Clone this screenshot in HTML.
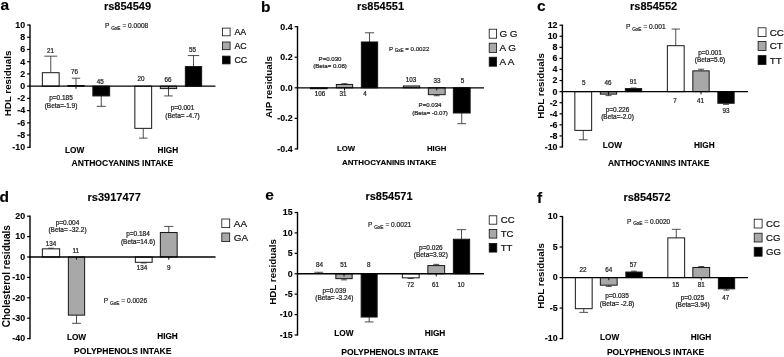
<!DOCTYPE html>
<html><head><meta charset="utf-8"><title>Figure</title>
<style>
html,body{margin:0;padding:0;background:#fff;}
body{width:784px;height:357px;overflow:hidden;}
svg{display:block;font-family:"Liberation Sans", sans-serif;filter:blur(0.35px);}
</style></head>
<body>
<svg width="784" height="357" viewBox="0 0 784 357">
<rect x="0" y="0" width="784" height="357" fill="#fff"/>
<text x="0.6" y="10.3" font-size="15.5" font-weight="bold" text-anchor="start" fill="#000" stroke="#000" stroke-width="0.12">a</text>
<text x="127.5" y="10.2" font-size="11" font-weight="bold" text-anchor="middle" fill="#000" stroke="#000" stroke-width="0.12">rs854549</text>
<line x1="50.75" y1="72.697" x2="50.75" y2="56.186499999999995" stroke="#222" stroke-width="0.8"/>
<line x1="44.25" y1="56.186499999999995" x2="57.25" y2="56.186499999999995" stroke="#222" stroke-width="0.8"/>
<rect x="42.35" y="72.697" width="16.799999999999997" height="13.453000000000003" fill="#fff" stroke="#161616" stroke-width="1.0"/>
<line x1="76.0" y1="85.5385" x2="76.0" y2="78.2005" stroke="#222" stroke-width="0.8"/>
<line x1="71.8" y1="78.2005" x2="80.2" y2="78.2005" stroke="#222" stroke-width="0.8"/>
<rect x="67.85" y="85.5385" width="16.30000000000001" height="0.6115000000000066" fill="#000" stroke="#161616" stroke-width="1.0"/>
<line x1="101.25" y1="95.934" x2="101.25" y2="106.32950000000001" stroke="#222" stroke-width="0.8"/>
<line x1="96.75" y1="106.32950000000001" x2="105.75" y2="106.32950000000001" stroke="#222" stroke-width="0.8"/>
<rect x="92.85" y="86.15" width="16.80000000000001" height="9.783999999999992" fill="#000" stroke="#161616" stroke-width="1.0"/>
<line x1="143.25" y1="128.3435" x2="143.25" y2="138.1275" stroke="#222" stroke-width="0.8"/>
<line x1="138.95" y1="138.1275" x2="147.55" y2="138.1275" stroke="#222" stroke-width="0.8"/>
<rect x="134.85" y="86.15" width="16.80000000000001" height="42.1935" fill="#fff" stroke="#161616" stroke-width="1.0"/>
<line x1="168.5" y1="88.596" x2="168.5" y2="95.934" stroke="#222" stroke-width="0.8"/>
<line x1="164.2" y1="95.934" x2="172.8" y2="95.934" stroke="#222" stroke-width="0.8"/>
<rect x="160.35" y="86.15" width="16.30000000000001" height="2.445999999999998" fill="#a8a8a8" stroke="#161616" stroke-width="1.0"/>
<line x1="193.5" y1="66.582" x2="193.5" y2="55.575" stroke="#222" stroke-width="0.8"/>
<line x1="187.8" y1="55.575" x2="199.2" y2="55.575" stroke="#222" stroke-width="0.8"/>
<rect x="185.35" y="66.582" width="16.30000000000001" height="19.568000000000012" fill="#000" stroke="#161616" stroke-width="1.0"/>
<line x1="76.0" y1="86.15" x2="76.0" y2="88.85000000000001" stroke="#111" stroke-width="1.0"/>
<line x1="168.5" y1="86.15" x2="168.5" y2="88.85000000000001" stroke="#111" stroke-width="1.0"/>
<line x1="29.3" y1="86.15" x2="215.5" y2="86.15" stroke="#000" stroke-width="1.3"/>
<line x1="30" y1="24.4" x2="30" y2="147.9" stroke="#000" stroke-width="1.4"/>
<line x1="27.1" y1="25.0" x2="30" y2="25.0" stroke="#000" stroke-width="1.2"/>
<text x="25.1" y="27.87" font-size="8.85" font-weight="bold" text-anchor="end" fill="#000" stroke="#000" stroke-width="0.12">10</text>
<line x1="27.1" y1="37.230000000000004" x2="30" y2="37.230000000000004" stroke="#000" stroke-width="1.2"/>
<text x="25.1" y="40.1" font-size="8.85" font-weight="bold" text-anchor="end" fill="#000" stroke="#000" stroke-width="0.12">8</text>
<line x1="27.1" y1="49.46" x2="30" y2="49.46" stroke="#000" stroke-width="1.2"/>
<text x="25.1" y="52.33" font-size="8.85" font-weight="bold" text-anchor="end" fill="#000" stroke="#000" stroke-width="0.12">6</text>
<line x1="27.1" y1="61.69" x2="30" y2="61.69" stroke="#000" stroke-width="1.2"/>
<text x="25.1" y="64.56" font-size="8.85" font-weight="bold" text-anchor="end" fill="#000" stroke="#000" stroke-width="0.12">4</text>
<line x1="27.1" y1="73.92" x2="30" y2="73.92" stroke="#000" stroke-width="1.2"/>
<text x="25.1" y="76.79" font-size="8.85" font-weight="bold" text-anchor="end" fill="#000" stroke="#000" stroke-width="0.12">2</text>
<line x1="27.1" y1="86.15" x2="30" y2="86.15" stroke="#000" stroke-width="1.2"/>
<text x="25.1" y="89.02" font-size="8.85" font-weight="bold" text-anchor="end" fill="#000" stroke="#000" stroke-width="0.12">0</text>
<line x1="27.1" y1="98.38" x2="30" y2="98.38" stroke="#000" stroke-width="1.2"/>
<text x="25.1" y="101.25" font-size="8.85" font-weight="bold" text-anchor="end" fill="#000" stroke="#000" stroke-width="0.12">-2</text>
<line x1="27.1" y1="110.61" x2="30" y2="110.61" stroke="#000" stroke-width="1.2"/>
<text x="25.1" y="113.48" font-size="8.85" font-weight="bold" text-anchor="end" fill="#000" stroke="#000" stroke-width="0.12">-4</text>
<line x1="27.1" y1="122.84" x2="30" y2="122.84" stroke="#000" stroke-width="1.2"/>
<text x="25.1" y="125.71" font-size="8.85" font-weight="bold" text-anchor="end" fill="#000" stroke="#000" stroke-width="0.12">-6</text>
<line x1="27.1" y1="135.07" x2="30" y2="135.07" stroke="#000" stroke-width="1.2"/>
<text x="25.1" y="137.94" font-size="8.85" font-weight="bold" text-anchor="end" fill="#000" stroke="#000" stroke-width="0.12">-8</text>
<line x1="27.1" y1="147.3" x2="30" y2="147.3" stroke="#000" stroke-width="1.2"/>
<text x="25.1" y="150.17" font-size="8.85" font-weight="bold" text-anchor="end" fill="#000" stroke="#000" stroke-width="0.12">-10</text>
<text transform="translate(10.6,83.5) rotate(-90)" font-size="9.8" font-weight="bold" text-anchor="middle" fill="#000">HDL residuals</text>
<text x="74.7" y="152.95" font-size="8.25" font-weight="bold" text-anchor="middle" fill="#000" stroke="#000" stroke-width="0.12">LOW</text>
<text x="167.8" y="152.95" font-size="8.25" font-weight="bold" text-anchor="middle" fill="#000" stroke="#000" stroke-width="0.12">HIGH</text>
<text x="122.4" y="165.66" font-size="8.55" font-weight="bold" text-anchor="middle" fill="#000" stroke="#000" stroke-width="0.12">ANTHOCYANINS INTAKE</text>
<text x="50.5" y="53.26" font-size="6.3" text-anchor="middle" fill="#1c1c1c" stroke="#1c1c1c" stroke-width="0.22">21</text>
<text x="74.5" y="74.26" font-size="6.3" text-anchor="middle" fill="#1c1c1c" stroke="#1c1c1c" stroke-width="0.22">76</text>
<text x="100.3" y="83.86" font-size="6.3" text-anchor="middle" fill="#1c1c1c" stroke="#1c1c1c" stroke-width="0.22">45</text>
<text x="141" y="81.26" font-size="6.3" text-anchor="middle" fill="#1c1c1c" stroke="#1c1c1c" stroke-width="0.22">20</text>
<text x="168" y="81.76" font-size="6.3" text-anchor="middle" fill="#1c1c1c" stroke="#1c1c1c" stroke-width="0.22">66</text>
<text x="192.5" y="51.76" font-size="6.3" text-anchor="middle" fill="#1c1c1c" stroke="#1c1c1c" stroke-width="0.22">55</text>
<text x="61" y="100.33" font-size="6.5" text-anchor="middle" fill="#1c1c1c" stroke="#1c1c1c" stroke-width="0.22">p=0.185</text>
<text x="61" y="108.33" font-size="6.5" text-anchor="middle" fill="#1c1c1c" stroke="#1c1c1c" stroke-width="0.22">(Beta=-1.9)</text>
<text x="182.5" y="109.83" font-size="6.5" text-anchor="middle" fill="#1c1c1c" stroke="#1c1c1c" stroke-width="0.22">p=0.001</text>
<text x="182.5" y="118.33" font-size="6.5" text-anchor="middle" fill="#1c1c1c" stroke="#1c1c1c" stroke-width="0.22">(Beta= -4.7)</text>
<text x="105" y="28.36" font-size="6.6" text-anchor="start" fill="#1c1c1c" stroke="#1c1c1c" stroke-width="0.2">P <tspan font-size="4.88" dy="1.5">GxE</tspan><tspan dy="-1.5"> = 0.0008</tspan></text>
<rect x="222.4" y="28.1" width="7.7" height="7.7" fill="#fff" stroke="#111" stroke-width="0.8"/>
<text x="234.5" y="35.1" font-size="8.8" text-anchor="start" fill="#111" stroke="#111" stroke-width="0.22">AA</text>
<rect x="222.4" y="42.0" width="7.7" height="7.7" fill="#a8a8a8" stroke="#111" stroke-width="0.8"/>
<text x="234.5" y="49.0" font-size="8.8" text-anchor="start" fill="#111" stroke="#111" stroke-width="0.22">AC</text>
<rect x="222.4" y="56.1" width="7.7" height="7.8" fill="#000" stroke="#111" stroke-width="0.8"/>
<text x="234.5" y="63.15" font-size="8.8" text-anchor="start" fill="#111" stroke="#111" stroke-width="0.22">CC</text>
<text x="261" y="12.3" font-size="15.5" font-weight="bold" text-anchor="start" fill="#000" stroke="#000" stroke-width="0.12">b</text>
<text x="380.5" y="10.2" font-size="11" font-weight="bold" text-anchor="middle" fill="#000" stroke="#000" stroke-width="0.12">rs854551</text>
<rect x="310.35" y="87.8" width="16.799999999999955" height="0.9165000000000134" fill="#fff" stroke="#161616" stroke-width="1.0"/>
<line x1="344.5" y1="84.4395" x2="344.5" y2="83.67575" stroke="#222" stroke-width="0.8"/>
<line x1="341.5" y1="83.67575" x2="347.5" y2="83.67575" stroke="#222" stroke-width="0.8"/>
<rect x="336.35" y="84.4395" width="16.299999999999955" height="3.360500000000002" fill="#a8a8a8" stroke="#161616" stroke-width="1.0"/>
<line x1="369.5" y1="41.97500000000001" x2="369.5" y2="32.81" stroke="#222" stroke-width="0.8"/>
<line x1="364.9" y1="32.81" x2="374.1" y2="32.81" stroke="#222" stroke-width="0.8"/>
<rect x="361.35" y="41.97500000000001" width="16.299999999999955" height="45.82499999999999" fill="#000" stroke="#161616" stroke-width="1.0"/>
<rect x="403.35" y="85.967" width="16.299999999999955" height="1.8329999999999984" fill="#a8a8a8" stroke="#161616" stroke-width="1.0"/>
<line x1="436.75" y1="94.67375" x2="436.75" y2="95.74300000000001" stroke="#222" stroke-width="0.8"/>
<line x1="433.75" y1="95.74300000000001" x2="439.75" y2="95.74300000000001" stroke="#222" stroke-width="0.8"/>
<rect x="428.35" y="87.8" width="16.799999999999955" height="6.873750000000001" fill="#a8a8a8" stroke="#161616" stroke-width="1.0"/>
<line x1="461.75" y1="113.00375000000001" x2="461.75" y2="123.69625" stroke="#222" stroke-width="0.8"/>
<line x1="457.35" y1="123.69625" x2="466.15" y2="123.69625" stroke="#222" stroke-width="0.8"/>
<rect x="453.35" y="87.8" width="16.799999999999955" height="25.203750000000014" fill="#000" stroke="#161616" stroke-width="1.0"/>
<line x1="344.5" y1="87.8" x2="344.5" y2="90.5" stroke="#111" stroke-width="1.0"/>
<line x1="436.75" y1="87.8" x2="436.75" y2="90.5" stroke="#111" stroke-width="1.0"/>
<line x1="296.8" y1="87.8" x2="484" y2="87.8" stroke="#000" stroke-width="1.3"/>
<line x1="297.5" y1="26.099999999999998" x2="297.5" y2="149.5" stroke="#000" stroke-width="1.4"/>
<line x1="294.6" y1="26.7" x2="297.5" y2="26.7" stroke="#000" stroke-width="1.2"/>
<text x="292.6" y="29.57" font-size="8.85" font-weight="bold" text-anchor="end" fill="#000" stroke="#000" stroke-width="0.12">0.4</text>
<line x1="294.6" y1="57.25" x2="297.5" y2="57.25" stroke="#000" stroke-width="1.2"/>
<text x="292.6" y="60.12" font-size="8.85" font-weight="bold" text-anchor="end" fill="#000" stroke="#000" stroke-width="0.12">0.2</text>
<line x1="294.6" y1="87.8" x2="297.5" y2="87.8" stroke="#000" stroke-width="1.2"/>
<text x="292.6" y="90.67" font-size="8.85" font-weight="bold" text-anchor="end" fill="#000" stroke="#000" stroke-width="0.12">0.0</text>
<line x1="294.6" y1="118.35000000000002" x2="297.5" y2="118.35000000000002" stroke="#000" stroke-width="1.2"/>
<text x="292.6" y="121.22" font-size="8.85" font-weight="bold" text-anchor="end" fill="#000" stroke="#000" stroke-width="0.12">-0.2</text>
<line x1="294.6" y1="148.9" x2="297.5" y2="148.9" stroke="#000" stroke-width="1.2"/>
<text x="292.6" y="151.77" font-size="8.85" font-weight="bold" text-anchor="end" fill="#000" stroke="#000" stroke-width="0.12">-0.4</text>
<text transform="translate(272.4,87) rotate(-90)" font-size="9.8" font-weight="bold" text-anchor="middle" fill="#000">AIP residuals</text>
<text x="346" y="150.77" font-size="7.75" font-weight="bold" text-anchor="middle" fill="#000" stroke="#000" stroke-width="0.12">LOW</text>
<text x="436.6" y="150.77" font-size="7.75" font-weight="bold" text-anchor="middle" fill="#000" stroke="#000" stroke-width="0.12">HIGH</text>
<text x="389.1" y="165.35" font-size="7.95" font-weight="bold" text-anchor="middle" fill="#000" stroke="#000" stroke-width="0.12">ANTHOCYANINS INTAKE</text>
<text x="320" y="96.06" font-size="6.3" text-anchor="middle" fill="#1c1c1c" stroke="#1c1c1c" stroke-width="0.22">106</text>
<text x="343" y="96.06" font-size="6.3" text-anchor="middle" fill="#1c1c1c" stroke="#1c1c1c" stroke-width="0.22">31</text>
<text x="365" y="96.26" font-size="6.3" text-anchor="middle" fill="#1c1c1c" stroke="#1c1c1c" stroke-width="0.22">4</text>
<text x="411" y="81.76" font-size="6.3" text-anchor="middle" fill="#1c1c1c" stroke="#1c1c1c" stroke-width="0.22">103</text>
<text x="437" y="83.26" font-size="6.3" text-anchor="middle" fill="#1c1c1c" stroke="#1c1c1c" stroke-width="0.22">33</text>
<text x="462.5" y="83.26" font-size="6.3" text-anchor="middle" fill="#1c1c1c" stroke="#1c1c1c" stroke-width="0.22">5</text>
<text x="330" y="61.18" font-size="6.1" text-anchor="middle" fill="#1c1c1c" stroke="#1c1c1c" stroke-width="0.22">P=0.030</text>
<text x="330" y="68.18" font-size="6.1" text-anchor="middle" fill="#1c1c1c" stroke="#1c1c1c" stroke-width="0.22">(Beta= 0.08)</text>
<text x="430" y="107.18" font-size="6.1" text-anchor="middle" fill="#1c1c1c" stroke="#1c1c1c" stroke-width="0.22">P=0.034</text>
<text x="430" y="114.68" font-size="6.1" text-anchor="middle" fill="#1c1c1c" stroke="#1c1c1c" stroke-width="0.22">(Beta= -0.07)</text>
<text x="389" y="50.7" font-size="6.15" text-anchor="start" fill="#1c1c1c" stroke="#1c1c1c" stroke-width="0.2">P <tspan font-size="4.55" dy="1.5">GxE</tspan><tspan dy="-1.5"> = 0.0022</tspan></text>
<rect x="489.2" y="29.2" width="7.4" height="9.0" fill="#fff" stroke="#111" stroke-width="0.8"/>
<text x="499.4" y="37.24" font-size="9.9" text-anchor="start" fill="#111" stroke="#111" stroke-width="0.22">G G</text>
<rect x="489.2" y="43.2" width="7.4" height="9.2" fill="#a8a8a8" stroke="#111" stroke-width="0.8"/>
<text x="499.4" y="51.34" font-size="9.9" text-anchor="start" fill="#111" stroke="#111" stroke-width="0.22">A G</text>
<rect x="489.2" y="57.2" width="7.4" height="9.0" fill="#000" stroke="#111" stroke-width="0.8"/>
<text x="499.4" y="65.24" font-size="9.9" text-anchor="start" fill="#111" stroke="#111" stroke-width="0.22">A A</text>
<text x="537" y="11" font-size="15.5" font-weight="bold" text-anchor="start" fill="#000" stroke="#000" stroke-width="0.12">c</text>
<text x="653.6" y="10.2" font-size="11" font-weight="bold" text-anchor="middle" fill="#000" stroke="#000" stroke-width="0.12">rs854552</text>
<line x1="583.25" y1="130.39090909090908" x2="583.25" y2="139.80272727272725" stroke="#222" stroke-width="0.8"/>
<line x1="578.85" y1="139.80272727272725" x2="587.65" y2="139.80272727272725" stroke="#222" stroke-width="0.8"/>
<rect x="574.85" y="91.63636363636364" width="16.799999999999955" height="38.754545454545436" fill="#fff" stroke="#161616" stroke-width="1.0"/>
<line x1="608.5" y1="94.12772727272727" x2="608.5" y2="95.62254545454546" stroke="#222" stroke-width="0.8"/>
<line x1="605.5" y1="95.62254545454546" x2="611.5" y2="95.62254545454546" stroke="#222" stroke-width="0.8"/>
<rect x="600.35" y="91.63636363636364" width="16.299999999999955" height="2.49136363636363" fill="#a8a8a8" stroke="#161616" stroke-width="1.0"/>
<line x1="633.5" y1="88.59136363636362" x2="633.5" y2="88.03772727272727" stroke="#222" stroke-width="0.8"/>
<line x1="630.5" y1="88.03772727272727" x2="636.5" y2="88.03772727272727" stroke="#222" stroke-width="0.8"/>
<rect x="625.35" y="88.59136363636362" width="16.299999999999955" height="3.045000000000016" fill="#000" stroke="#161616" stroke-width="1.0"/>
<line x1="675.75" y1="45.68454545454545" x2="675.75" y2="29.07545454545454" stroke="#222" stroke-width="0.8"/>
<line x1="671.55" y1="29.07545454545454" x2="679.95" y2="29.07545454545454" stroke="#222" stroke-width="0.8"/>
<rect x="667.35" y="45.68454545454545" width="16.799999999999955" height="45.95181818181819" fill="#fff" stroke="#161616" stroke-width="1.0"/>
<line x1="701.0" y1="70.875" x2="701.0" y2="69.21409090909091" stroke="#222" stroke-width="0.8"/>
<line x1="698.0" y1="69.21409090909091" x2="704.0" y2="69.21409090909091" stroke="#222" stroke-width="0.8"/>
<rect x="692.85" y="70.875" width="16.299999999999955" height="20.76136363636364" fill="#a8a8a8" stroke="#161616" stroke-width="1.0"/>
<line x1="726.0" y1="103.26272727272728" x2="726.0" y2="104.37" stroke="#222" stroke-width="0.8"/>
<line x1="723.0" y1="104.37" x2="729.0" y2="104.37" stroke="#222" stroke-width="0.8"/>
<rect x="717.85" y="91.63636363636364" width="16.299999999999955" height="11.626363636363635" fill="#000" stroke="#161616" stroke-width="1.0"/>
<line x1="608.5" y1="91.63636363636364" x2="608.5" y2="94.33636363636364" stroke="#111" stroke-width="1.0"/>
<line x1="701.0" y1="91.63636363636364" x2="701.0" y2="94.33636363636364" stroke="#111" stroke-width="1.0"/>
<line x1="561.6999999999999" y1="91.63636363636364" x2="748" y2="91.63636363636364" stroke="#000" stroke-width="1.3"/>
<line x1="562.4" y1="24.599999999999998" x2="562.4" y2="147.6" stroke="#000" stroke-width="1.4"/>
<line x1="559.5" y1="25.2" x2="562.4" y2="25.2" stroke="#000" stroke-width="1.2"/>
<text x="557.5" y="28.07" font-size="8.85" font-weight="bold" text-anchor="end" fill="#000" stroke="#000" stroke-width="0.12">12</text>
<line x1="559.5" y1="36.27272727272727" x2="562.4" y2="36.27272727272727" stroke="#000" stroke-width="1.2"/>
<text x="557.5" y="39.14" font-size="8.85" font-weight="bold" text-anchor="end" fill="#000" stroke="#000" stroke-width="0.12">10</text>
<line x1="559.5" y1="47.345454545454544" x2="562.4" y2="47.345454545454544" stroke="#000" stroke-width="1.2"/>
<text x="557.5" y="50.21" font-size="8.85" font-weight="bold" text-anchor="end" fill="#000" stroke="#000" stroke-width="0.12">8</text>
<line x1="559.5" y1="58.41818181818182" x2="562.4" y2="58.41818181818182" stroke="#000" stroke-width="1.2"/>
<text x="557.5" y="61.29" font-size="8.85" font-weight="bold" text-anchor="end" fill="#000" stroke="#000" stroke-width="0.12">6</text>
<line x1="559.5" y1="69.49090909090908" x2="562.4" y2="69.49090909090908" stroke="#000" stroke-width="1.2"/>
<text x="557.5" y="72.36" font-size="8.85" font-weight="bold" text-anchor="end" fill="#000" stroke="#000" stroke-width="0.12">4</text>
<line x1="559.5" y1="80.56363636363636" x2="562.4" y2="80.56363636363636" stroke="#000" stroke-width="1.2"/>
<text x="557.5" y="83.43" font-size="8.85" font-weight="bold" text-anchor="end" fill="#000" stroke="#000" stroke-width="0.12">2</text>
<line x1="559.5" y1="91.63636363636364" x2="562.4" y2="91.63636363636364" stroke="#000" stroke-width="1.2"/>
<text x="557.5" y="94.5" font-size="8.85" font-weight="bold" text-anchor="end" fill="#000" stroke="#000" stroke-width="0.12">0</text>
<line x1="559.5" y1="102.7090909090909" x2="562.4" y2="102.7090909090909" stroke="#000" stroke-width="1.2"/>
<text x="557.5" y="105.58" font-size="8.85" font-weight="bold" text-anchor="end" fill="#000" stroke="#000" stroke-width="0.12">-2</text>
<line x1="559.5" y1="113.78181818181818" x2="562.4" y2="113.78181818181818" stroke="#000" stroke-width="1.2"/>
<text x="557.5" y="116.65" font-size="8.85" font-weight="bold" text-anchor="end" fill="#000" stroke="#000" stroke-width="0.12">-4</text>
<line x1="559.5" y1="124.85454545454546" x2="562.4" y2="124.85454545454546" stroke="#000" stroke-width="1.2"/>
<text x="557.5" y="127.72" font-size="8.85" font-weight="bold" text-anchor="end" fill="#000" stroke="#000" stroke-width="0.12">-6</text>
<line x1="559.5" y1="135.9272727272727" x2="562.4" y2="135.9272727272727" stroke="#000" stroke-width="1.2"/>
<text x="557.5" y="138.8" font-size="8.85" font-weight="bold" text-anchor="end" fill="#000" stroke="#000" stroke-width="0.12">-8</text>
<line x1="559.5" y1="147.0" x2="562.4" y2="147.0" stroke="#000" stroke-width="1.2"/>
<text x="557.5" y="149.87" font-size="8.85" font-weight="bold" text-anchor="end" fill="#000" stroke="#000" stroke-width="0.12">-10</text>
<text transform="translate(543.8,86) rotate(-90)" font-size="9.8" font-weight="bold" text-anchor="middle" fill="#000">HDL residuals</text>
<text x="612.3" y="148.25" font-size="8.25" font-weight="bold" text-anchor="middle" fill="#000" stroke="#000" stroke-width="0.12">LOW</text>
<text x="704.3" y="148.25" font-size="8.25" font-weight="bold" text-anchor="middle" fill="#000" stroke="#000" stroke-width="0.12">HIGH</text>
<text x="658.7" y="166.06" font-size="8.55" font-weight="bold" text-anchor="middle" fill="#000" stroke="#000" stroke-width="0.12">ANTHOCYANINS INTAKE</text>
<text x="583.8" y="84.76" font-size="6.3" text-anchor="middle" fill="#1c1c1c" stroke="#1c1c1c" stroke-width="0.22">5</text>
<text x="608" y="84.76" font-size="6.3" text-anchor="middle" fill="#1c1c1c" stroke="#1c1c1c" stroke-width="0.22">46</text>
<text x="633.3" y="84.26" font-size="6.3" text-anchor="middle" fill="#1c1c1c" stroke="#1c1c1c" stroke-width="0.22">91</text>
<text x="675" y="103.06" font-size="6.3" text-anchor="middle" fill="#1c1c1c" stroke="#1c1c1c" stroke-width="0.22">7</text>
<text x="700.5" y="103.26" font-size="6.3" text-anchor="middle" fill="#1c1c1c" stroke="#1c1c1c" stroke-width="0.22">41</text>
<text x="726" y="113.06" font-size="6.3" text-anchor="middle" fill="#1c1c1c" stroke="#1c1c1c" stroke-width="0.22">93</text>
<text x="617.5" y="111.63" font-size="6.5" text-anchor="middle" fill="#1c1c1c" stroke="#1c1c1c" stroke-width="0.22">p=0.226</text>
<text x="617.5" y="119.13" font-size="6.5" text-anchor="middle" fill="#1c1c1c" stroke="#1c1c1c" stroke-width="0.22">(Beta=-2.0)</text>
<text x="710" y="54.83" font-size="6.5" text-anchor="middle" fill="#1c1c1c" stroke="#1c1c1c" stroke-width="0.22">p=0.001</text>
<text x="710" y="62.33" font-size="6.5" text-anchor="middle" fill="#1c1c1c" stroke="#1c1c1c" stroke-width="0.22">(Beta=5.6)</text>
<text x="626" y="29.16" font-size="6.6" text-anchor="start" fill="#1c1c1c" stroke="#1c1c1c" stroke-width="0.2">P <tspan font-size="4.88" dy="1.5">GxE</tspan><tspan dy="-1.5"> = 0.001</tspan></text>
<rect x="758.1" y="27.8" width="7.9" height="8.8" fill="#fff" stroke="#111" stroke-width="0.8"/>
<text x="769.8" y="35.71" font-size="9.8" text-anchor="start" fill="#111" stroke="#111" stroke-width="0.22">CC</text>
<rect x="758.1" y="41.5" width="7.9" height="8.9" fill="#a8a8a8" stroke="#111" stroke-width="0.8"/>
<text x="769.8" y="49.46" font-size="9.8" text-anchor="start" fill="#111" stroke="#111" stroke-width="0.22">CT</text>
<rect x="758.1" y="55.6" width="7.9" height="8.9" fill="#000" stroke="#111" stroke-width="0.8"/>
<text x="769.8" y="63.56" font-size="9.8" text-anchor="start" fill="#111" stroke="#111" stroke-width="0.22">TT</text>
<text x="-0.5" y="202.3" font-size="15.5" font-weight="bold" text-anchor="start" fill="#000" stroke="#000" stroke-width="0.12">d</text>
<text x="114.2" y="201.4" font-size="11" font-weight="bold" text-anchor="middle" fill="#000" stroke="#000" stroke-width="0.12">rs3917477</text>
<line x1="51.0" y1="248.84" x2="51.0" y2="248.228" stroke="#222" stroke-width="0.8"/>
<line x1="48.0" y1="248.228" x2="54.0" y2="248.228" stroke="#222" stroke-width="0.8"/>
<rect x="42.35" y="248.84" width="17.299999999999997" height="8.159999999999997" fill="#fff" stroke="#161616" stroke-width="1.0"/>
<line x1="76.5" y1="315.14" x2="76.5" y2="323.3" stroke="#222" stroke-width="0.8"/>
<line x1="72.1" y1="323.3" x2="80.9" y2="323.3" stroke="#222" stroke-width="0.8"/>
<rect x="68.35" y="257.0" width="16.30000000000001" height="58.139999999999986" fill="#a8a8a8" stroke="#161616" stroke-width="1.0"/>
<line x1="143.75" y1="262.304" x2="143.75" y2="262.916" stroke="#222" stroke-width="0.8"/>
<line x1="140.75" y1="262.916" x2="146.75" y2="262.916" stroke="#222" stroke-width="0.8"/>
<rect x="135.35" y="257.0" width="16.80000000000001" height="5.303999999999974" fill="#fff" stroke="#161616" stroke-width="1.0"/>
<line x1="168.75" y1="232.51999999999998" x2="168.75" y2="226.39999999999998" stroke="#222" stroke-width="0.8"/>
<line x1="164.15" y1="226.39999999999998" x2="173.35" y2="226.39999999999998" stroke="#222" stroke-width="0.8"/>
<rect x="160.35" y="232.51999999999998" width="16.80000000000001" height="24.480000000000018" fill="#a8a8a8" stroke="#161616" stroke-width="1.0"/>
<line x1="76.5" y1="257.0" x2="76.5" y2="259.7" stroke="#111" stroke-width="1.0"/>
<line x1="168.75" y1="257.0" x2="168.75" y2="259.7" stroke="#111" stroke-width="1.0"/>
<line x1="29.3" y1="257.0" x2="215.5" y2="257.0" stroke="#000" stroke-width="1.3"/>
<line x1="30" y1="215.6" x2="30" y2="339.20000000000005" stroke="#000" stroke-width="1.4"/>
<line x1="27.1" y1="216.2" x2="30" y2="216.2" stroke="#000" stroke-width="1.2"/>
<text x="25.1" y="219.07" font-size="8.85" font-weight="bold" text-anchor="end" fill="#000" stroke="#000" stroke-width="0.12">20</text>
<line x1="27.1" y1="236.6" x2="30" y2="236.6" stroke="#000" stroke-width="1.2"/>
<text x="25.1" y="239.47" font-size="8.85" font-weight="bold" text-anchor="end" fill="#000" stroke="#000" stroke-width="0.12">10</text>
<line x1="27.1" y1="257.0" x2="30" y2="257.0" stroke="#000" stroke-width="1.2"/>
<text x="25.1" y="259.87" font-size="8.85" font-weight="bold" text-anchor="end" fill="#000" stroke="#000" stroke-width="0.12">0</text>
<line x1="27.1" y1="277.4" x2="30" y2="277.4" stroke="#000" stroke-width="1.2"/>
<text x="25.1" y="280.27" font-size="8.85" font-weight="bold" text-anchor="end" fill="#000" stroke="#000" stroke-width="0.12">-10</text>
<line x1="27.1" y1="297.8" x2="30" y2="297.8" stroke="#000" stroke-width="1.2"/>
<text x="25.1" y="300.67" font-size="8.85" font-weight="bold" text-anchor="end" fill="#000" stroke="#000" stroke-width="0.12">-20</text>
<line x1="27.1" y1="318.20000000000005" x2="30" y2="318.20000000000005" stroke="#000" stroke-width="1.2"/>
<text x="25.1" y="321.07" font-size="8.85" font-weight="bold" text-anchor="end" fill="#000" stroke="#000" stroke-width="0.12">-30</text>
<line x1="27.1" y1="338.6" x2="30" y2="338.6" stroke="#000" stroke-width="1.2"/>
<text x="25.1" y="341.47" font-size="8.85" font-weight="bold" text-anchor="end" fill="#000" stroke="#000" stroke-width="0.12">-40</text>
<text transform="translate(9.8,276.2) rotate(-90)" font-size="10.05" font-weight="bold" text-anchor="middle" fill="#000">Cholesterol residuals</text>
<text x="76.5" y="339.65" font-size="8.25" font-weight="bold" text-anchor="middle" fill="#000" stroke="#000" stroke-width="0.12">LOW</text>
<text x="167.5" y="339.45" font-size="8.25" font-weight="bold" text-anchor="middle" fill="#000" stroke="#000" stroke-width="0.12">HIGH</text>
<text x="122.8" y="354.36" font-size="8.55" font-weight="bold" text-anchor="middle" fill="#000" stroke="#000" stroke-width="0.12">POLYPHENOLS INTAKE</text>
<text x="51" y="246.06" font-size="6.3" text-anchor="middle" fill="#1c1c1c" stroke="#1c1c1c" stroke-width="0.22">134</text>
<text x="75.8" y="253.26" font-size="6.3" text-anchor="middle" fill="#1c1c1c" stroke="#1c1c1c" stroke-width="0.22">11</text>
<text x="142" y="270.26" font-size="6.3" text-anchor="middle" fill="#1c1c1c" stroke="#1c1c1c" stroke-width="0.22">134</text>
<text x="168.8" y="270.26" font-size="6.3" text-anchor="middle" fill="#1c1c1c" stroke="#1c1c1c" stroke-width="0.22">9</text>
<text x="67.5" y="224.83" font-size="6.5" text-anchor="middle" fill="#1c1c1c" stroke="#1c1c1c" stroke-width="0.22">p=0.004</text>
<text x="67.5" y="232.33" font-size="6.5" text-anchor="middle" fill="#1c1c1c" stroke="#1c1c1c" stroke-width="0.22">(Beta= -32.2)</text>
<text x="138" y="236.13" font-size="6.5" text-anchor="middle" fill="#1c1c1c" stroke="#1c1c1c" stroke-width="0.22">p=0.184</text>
<text x="138" y="243.63" font-size="6.5" text-anchor="middle" fill="#1c1c1c" stroke="#1c1c1c" stroke-width="0.22">(Beta=14.6)</text>
<text x="103.8" y="303.16" font-size="6.6" text-anchor="start" fill="#1c1c1c" stroke="#1c1c1c" stroke-width="0.2">P <tspan font-size="4.88" dy="1.5">GxE</tspan><tspan dy="-1.5"> = 0.0026</tspan></text>
<rect x="221.8" y="219.0" width="7.9" height="8.6" fill="#fff" stroke="#111" stroke-width="0.8"/>
<text x="233.8" y="226.84" font-size="9.9" text-anchor="start" fill="#111" stroke="#111" stroke-width="0.22">AA</text>
<rect x="221.8" y="233.0" width="7.9" height="8.6" fill="#a8a8a8" stroke="#111" stroke-width="0.8"/>
<text x="233.8" y="240.84" font-size="9.9" text-anchor="start" fill="#111" stroke="#111" stroke-width="0.22">GA</text>
<text x="265.2" y="200.2" font-size="15.5" font-weight="bold" text-anchor="start" fill="#000" stroke="#000" stroke-width="0.12">e</text>
<text x="389" y="199.6" font-size="11" font-weight="bold" text-anchor="middle" fill="#000" stroke="#000" stroke-width="0.12">rs854571</text>
<line x1="318.75" y1="273.75" x2="318.75" y2="272.28" stroke="#222" stroke-width="0.8"/>
<line x1="314.35" y1="272.28" x2="323.15" y2="272.28" stroke="#222" stroke-width="0.8"/>
<line x1="344.0" y1="278.65" x2="344.0" y2="279.875" stroke="#222" stroke-width="0.8"/>
<line x1="341.0" y1="279.875" x2="347.0" y2="279.875" stroke="#222" stroke-width="0.8"/>
<rect x="335.85" y="273.75" width="16.299999999999955" height="4.899999999999977" fill="#a8a8a8" stroke="#161616" stroke-width="1.0"/>
<line x1="369.15" y1="317.0333333333333" x2="369.15" y2="321.93333333333334" stroke="#222" stroke-width="0.8"/>
<line x1="364.75" y1="321.93333333333334" x2="373.54999999999995" y2="321.93333333333334" stroke="#222" stroke-width="0.8"/>
<rect x="361.15000000000003" y="273.75" width="15.999999999999943" height="43.2833333333333" fill="#000" stroke="#161616" stroke-width="1.0"/>
<line x1="410.75" y1="277.8333333333333" x2="410.75" y2="278.4458333333333" stroke="#222" stroke-width="0.8"/>
<line x1="407.75" y1="278.4458333333333" x2="413.75" y2="278.4458333333333" stroke="#222" stroke-width="0.8"/>
<rect x="402.35" y="273.75" width="16.799999999999955" height="4.083333333333314" fill="#fff" stroke="#161616" stroke-width="1.0"/>
<line x1="436.25" y1="265.5833333333333" x2="436.25" y2="264.35833333333335" stroke="#222" stroke-width="0.8"/>
<line x1="433.25" y1="264.35833333333335" x2="439.25" y2="264.35833333333335" stroke="#222" stroke-width="0.8"/>
<rect x="427.85" y="265.5833333333333" width="16.799999999999955" height="8.166666666666686" fill="#a8a8a8" stroke="#161616" stroke-width="1.0"/>
<line x1="461.5" y1="239.24583333333334" x2="461.5" y2="229.65" stroke="#222" stroke-width="0.8"/>
<line x1="456.8" y1="229.65" x2="466.2" y2="229.65" stroke="#222" stroke-width="0.8"/>
<rect x="453.35" y="239.24583333333334" width="16.299999999999955" height="34.50416666666666" fill="#000" stroke="#161616" stroke-width="1.0"/>
<line x1="344.0" y1="273.75" x2="344.0" y2="276.45" stroke="#111" stroke-width="1.0"/>
<line x1="436.25" y1="273.75" x2="436.25" y2="276.45" stroke="#111" stroke-width="1.0"/>
<line x1="296.8" y1="273.75" x2="484" y2="273.75" stroke="#000" stroke-width="1.3"/>
<line x1="297.5" y1="211.9" x2="297.5" y2="335.6" stroke="#000" stroke-width="1.4"/>
<line x1="294.6" y1="212.5" x2="297.5" y2="212.5" stroke="#000" stroke-width="1.2"/>
<text x="292.6" y="215.37" font-size="8.85" font-weight="bold" text-anchor="end" fill="#000" stroke="#000" stroke-width="0.12">15</text>
<line x1="294.6" y1="232.91666666666666" x2="297.5" y2="232.91666666666666" stroke="#000" stroke-width="1.2"/>
<text x="292.6" y="235.78" font-size="8.85" font-weight="bold" text-anchor="end" fill="#000" stroke="#000" stroke-width="0.12">10</text>
<line x1="294.6" y1="253.33333333333331" x2="297.5" y2="253.33333333333331" stroke="#000" stroke-width="1.2"/>
<text x="292.6" y="256.2" font-size="8.85" font-weight="bold" text-anchor="end" fill="#000" stroke="#000" stroke-width="0.12">5</text>
<line x1="294.6" y1="273.75" x2="297.5" y2="273.75" stroke="#000" stroke-width="1.2"/>
<text x="292.6" y="276.62" font-size="8.85" font-weight="bold" text-anchor="end" fill="#000" stroke="#000" stroke-width="0.12">0</text>
<line x1="294.6" y1="294.16666666666663" x2="297.5" y2="294.16666666666663" stroke="#000" stroke-width="1.2"/>
<text x="292.6" y="297.03" font-size="8.85" font-weight="bold" text-anchor="end" fill="#000" stroke="#000" stroke-width="0.12">-5</text>
<line x1="294.6" y1="314.5833333333333" x2="297.5" y2="314.5833333333333" stroke="#000" stroke-width="1.2"/>
<text x="292.6" y="317.45" font-size="8.85" font-weight="bold" text-anchor="end" fill="#000" stroke="#000" stroke-width="0.12">-10</text>
<line x1="294.6" y1="335.0" x2="297.5" y2="335.0" stroke="#000" stroke-width="1.2"/>
<text x="292.6" y="337.87" font-size="8.85" font-weight="bold" text-anchor="end" fill="#000" stroke="#000" stroke-width="0.12">-15</text>
<text transform="translate(275.9,272) rotate(-90)" font-size="9.8" font-weight="bold" text-anchor="middle" fill="#000">HDL residuals</text>
<text x="343.8" y="336.25" font-size="8.25" font-weight="bold" text-anchor="middle" fill="#000" stroke="#000" stroke-width="0.12">LOW</text>
<text x="435" y="335.75" font-size="8.25" font-weight="bold" text-anchor="middle" fill="#000" stroke="#000" stroke-width="0.12">HIGH</text>
<text x="389.9" y="355.06" font-size="8.55" font-weight="bold" text-anchor="middle" fill="#000" stroke="#000" stroke-width="0.12">POLYPHENOLS INTAKE</text>
<text x="319.5" y="267.36" font-size="6.3" text-anchor="middle" fill="#1c1c1c" stroke="#1c1c1c" stroke-width="0.22">84</text>
<text x="343.8" y="267.36" font-size="6.3" text-anchor="middle" fill="#1c1c1c" stroke="#1c1c1c" stroke-width="0.22">51</text>
<text x="368.8" y="267.36" font-size="6.3" text-anchor="middle" fill="#1c1c1c" stroke="#1c1c1c" stroke-width="0.22">8</text>
<text x="410.5" y="287.26" font-size="6.3" text-anchor="middle" fill="#1c1c1c" stroke="#1c1c1c" stroke-width="0.22">72</text>
<text x="435.5" y="287.26" font-size="6.3" text-anchor="middle" fill="#1c1c1c" stroke="#1c1c1c" stroke-width="0.22">61</text>
<text x="461" y="287.26" font-size="6.3" text-anchor="middle" fill="#1c1c1c" stroke="#1c1c1c" stroke-width="0.22">10</text>
<text x="334.3" y="292.83" font-size="6.5" text-anchor="middle" fill="#1c1c1c" stroke="#1c1c1c" stroke-width="0.22">p=0.039</text>
<text x="334.3" y="300.33" font-size="6.5" text-anchor="middle" fill="#1c1c1c" stroke="#1c1c1c" stroke-width="0.22">(Beta= -3.24)</text>
<text x="430.8" y="249.83" font-size="6.5" text-anchor="middle" fill="#1c1c1c" stroke="#1c1c1c" stroke-width="0.22">p=0.026</text>
<text x="430.8" y="257.33" font-size="6.5" text-anchor="middle" fill="#1c1c1c" stroke="#1c1c1c" stroke-width="0.22">(Beta=3.92)</text>
<text x="368" y="227.36" font-size="6.6" text-anchor="start" fill="#1c1c1c" stroke="#1c1c1c" stroke-width="0.2">P <tspan font-size="4.88" dy="1.5">GxE</tspan><tspan dy="-1.5"> = 0.0021</tspan></text>
<rect x="489.2" y="215.8" width="7.6" height="8.4" fill="#fff" stroke="#111" stroke-width="0.8"/>
<text x="500.8" y="223.4" font-size="9.5" text-anchor="start" fill="#111" stroke="#111" stroke-width="0.22">CC</text>
<rect x="489.2" y="229.5" width="7.6" height="8.6" fill="#a8a8a8" stroke="#111" stroke-width="0.8"/>
<text x="500.8" y="237.2" font-size="9.5" text-anchor="start" fill="#111" stroke="#111" stroke-width="0.22">TC</text>
<rect x="489.2" y="243.4" width="7.6" height="8.7" fill="#000" stroke="#111" stroke-width="0.8"/>
<text x="500.8" y="251.15" font-size="9.5" text-anchor="start" fill="#111" stroke="#111" stroke-width="0.22">TT</text>
<text x="537" y="203" font-size="15.5" font-weight="bold" text-anchor="start" fill="#000" stroke="#000" stroke-width="0.12">f</text>
<text x="647" y="200.6" font-size="11" font-weight="bold" text-anchor="middle" fill="#000" stroke="#000" stroke-width="0.12">rs854572</text>
<line x1="583.75" y1="308.68550000000005" x2="583.75" y2="312.3485" stroke="#222" stroke-width="0.8"/>
<line x1="579.35" y1="312.3485" x2="588.15" y2="312.3485" stroke="#222" stroke-width="0.8"/>
<rect x="575.35" y="277.55" width="16.799999999999955" height="31.135500000000036" fill="#fff" stroke="#161616" stroke-width="1.0"/>
<line x1="608.75" y1="285.18125000000003" x2="608.75" y2="286.40225" stroke="#222" stroke-width="0.8"/>
<line x1="605.75" y1="286.40225" x2="611.75" y2="286.40225" stroke="#222" stroke-width="0.8"/>
<rect x="600.35" y="277.55" width="16.799999999999955" height="7.631250000000023" fill="#a8a8a8" stroke="#161616" stroke-width="1.0"/>
<line x1="634.0" y1="272.0555" x2="634.0" y2="271.13975" stroke="#222" stroke-width="0.8"/>
<line x1="631.0" y1="271.13975" x2="637.0" y2="271.13975" stroke="#222" stroke-width="0.8"/>
<rect x="625.85" y="272.0555" width="16.299999999999955" height="5.494500000000016" fill="#000" stroke="#161616" stroke-width="1.0"/>
<line x1="676.25" y1="237.8675" x2="676.25" y2="229.3205" stroke="#222" stroke-width="0.8"/>
<line x1="671.85" y1="229.3205" x2="680.65" y2="229.3205" stroke="#222" stroke-width="0.8"/>
<rect x="667.85" y="237.8675" width="16.799999999999955" height="39.682500000000005" fill="#fff" stroke="#161616" stroke-width="1.0"/>
<line x1="701.25" y1="267.47675000000004" x2="701.25" y2="266.56100000000004" stroke="#222" stroke-width="0.8"/>
<line x1="698.25" y1="266.56100000000004" x2="704.25" y2="266.56100000000004" stroke="#222" stroke-width="0.8"/>
<rect x="692.85" y="267.47675000000004" width="16.799999999999955" height="10.073249999999973" fill="#a8a8a8" stroke="#161616" stroke-width="1.0"/>
<line x1="726.5" y1="288.84425" x2="726.5" y2="290.06525" stroke="#222" stroke-width="0.8"/>
<line x1="723.5" y1="290.06525" x2="729.5" y2="290.06525" stroke="#222" stroke-width="0.8"/>
<rect x="718.35" y="277.55" width="16.299999999999955" height="11.294249999999977" fill="#000" stroke="#161616" stroke-width="1.0"/>
<line x1="608.75" y1="277.55" x2="608.75" y2="280.25" stroke="#111" stroke-width="1.0"/>
<line x1="701.25" y1="277.55" x2="701.25" y2="280.25" stroke="#111" stroke-width="1.0"/>
<line x1="561.8" y1="277.55" x2="748" y2="277.55" stroke="#000" stroke-width="1.3"/>
<line x1="562.5" y1="215.9" x2="562.5" y2="339.20000000000005" stroke="#000" stroke-width="1.4"/>
<line x1="559.6" y1="216.5" x2="562.5" y2="216.5" stroke="#000" stroke-width="1.2"/>
<text x="557.6" y="219.37" font-size="8.85" font-weight="bold" text-anchor="end" fill="#000" stroke="#000" stroke-width="0.12">10</text>
<line x1="559.6" y1="247.025" x2="562.5" y2="247.025" stroke="#000" stroke-width="1.2"/>
<text x="557.6" y="249.89" font-size="8.85" font-weight="bold" text-anchor="end" fill="#000" stroke="#000" stroke-width="0.12">5</text>
<line x1="559.6" y1="277.55" x2="562.5" y2="277.55" stroke="#000" stroke-width="1.2"/>
<text x="557.6" y="280.42" font-size="8.85" font-weight="bold" text-anchor="end" fill="#000" stroke="#000" stroke-width="0.12">0</text>
<line x1="559.6" y1="308.07500000000005" x2="562.5" y2="308.07500000000005" stroke="#000" stroke-width="1.2"/>
<text x="557.6" y="310.94" font-size="8.85" font-weight="bold" text-anchor="end" fill="#000" stroke="#000" stroke-width="0.12">-5</text>
<line x1="559.6" y1="338.6" x2="562.5" y2="338.6" stroke="#000" stroke-width="1.2"/>
<text x="557.6" y="341.47" font-size="8.85" font-weight="bold" text-anchor="end" fill="#000" stroke="#000" stroke-width="0.12">-10</text>
<text transform="translate(544,276) rotate(-90)" font-size="9.8" font-weight="bold" text-anchor="middle" fill="#000">HDL residuals</text>
<text x="609.7" y="339.65" font-size="8.25" font-weight="bold" text-anchor="middle" fill="#000" stroke="#000" stroke-width="0.12">LOW</text>
<text x="701" y="339.65" font-size="8.25" font-weight="bold" text-anchor="middle" fill="#000" stroke="#000" stroke-width="0.12">HIGH</text>
<text x="655.6" y="355.06" font-size="8.55" font-weight="bold" text-anchor="middle" fill="#000" stroke="#000" stroke-width="0.12">POLYPHENOLS INTAKE</text>
<text x="583" y="271.76" font-size="6.3" text-anchor="middle" fill="#1c1c1c" stroke="#1c1c1c" stroke-width="0.22">22</text>
<text x="608.8" y="271.76" font-size="6.3" text-anchor="middle" fill="#1c1c1c" stroke="#1c1c1c" stroke-width="0.22">64</text>
<text x="633.3" y="266.76" font-size="6.3" text-anchor="middle" fill="#1c1c1c" stroke="#1c1c1c" stroke-width="0.22">57</text>
<text x="675.8" y="286.56" font-size="6.3" text-anchor="middle" fill="#1c1c1c" stroke="#1c1c1c" stroke-width="0.22">15</text>
<text x="701.3" y="286.76" font-size="6.3" text-anchor="middle" fill="#1c1c1c" stroke="#1c1c1c" stroke-width="0.22">81</text>
<text x="725.8" y="299.76" font-size="6.3" text-anchor="middle" fill="#1c1c1c" stroke="#1c1c1c" stroke-width="0.22">47</text>
<text x="617" y="298.13" font-size="6.5" text-anchor="middle" fill="#1c1c1c" stroke="#1c1c1c" stroke-width="0.22">p=0.035</text>
<text x="617" y="305.63" font-size="6.5" text-anchor="middle" fill="#1c1c1c" stroke="#1c1c1c" stroke-width="0.22">(Beta= -2.8)</text>
<text x="692.5" y="299.83" font-size="6.5" text-anchor="middle" fill="#1c1c1c" stroke="#1c1c1c" stroke-width="0.22">p=0.025</text>
<text x="692.5" y="307.33" font-size="6.5" text-anchor="middle" fill="#1c1c1c" stroke="#1c1c1c" stroke-width="0.22">(Beta=3.94)</text>
<text x="627" y="223.66" font-size="6.6" text-anchor="start" fill="#1c1c1c" stroke="#1c1c1c" stroke-width="0.2">P <tspan font-size="4.88" dy="1.5">GxE</tspan><tspan dy="-1.5"> = 0.0020</tspan></text>
<rect x="754.2" y="219.2" width="7.9" height="8.8" fill="#fff" stroke="#111" stroke-width="0.8"/>
<text x="766.1" y="227.04" font-size="9.6" text-anchor="start" fill="#111" stroke="#111" stroke-width="0.22">CC</text>
<rect x="754.2" y="233.2" width="7.9" height="8.8" fill="#a8a8a8" stroke="#111" stroke-width="0.8"/>
<text x="766.1" y="241.04" font-size="9.6" text-anchor="start" fill="#111" stroke="#111" stroke-width="0.22">CG</text>
<rect x="754.2" y="247.3" width="7.9" height="8.9" fill="#000" stroke="#111" stroke-width="0.8"/>
<text x="766.1" y="255.19" font-size="9.6" text-anchor="start" fill="#111" stroke="#111" stroke-width="0.22">GG</text>
</svg>
</body></html>
